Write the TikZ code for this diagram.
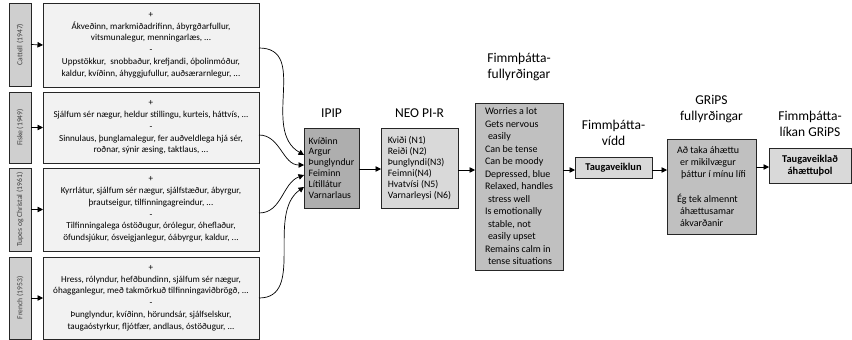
\documentclass[tikz,border=0pt]{standalone}
\usepackage{fontspec}
\setmainfont{Carlito}
\usetikzlibrary{arrows.meta,calc}
\definecolor{labfill}{HTML}{CFCFCF}
\definecolor{srcfill}{HTML}{F2F2F2}
\definecolor{darkfill}{HTML}{AEAEAE}
\definecolor{midfill}{HTML}{C0C0C0}
\definecolor{lightfill}{HTML}{D9D9D9}
\tikzset{
  box/.style={draw=black!85, line width=0.8pt, inner sep=0pt, outer sep=0pt},
  labbox/.style={box, fill=labfill, minimum width=22pt, minimum height=#1,
    font=\fontsize{7.6}{8}\selectfont, text=black!75},
  srcbox/.style={box, fill=srcfill, minimum width=216pt, minimum height=#1,
    align=center, font=\fontsize{9.1}{11.8}\selectfont},
  listbox/.style={box, align=left, font=\fontsize{9.8}{10.9}\selectfont},
  ttl/.style={align=center, font=\fontsize{13.5}{16.5}\selectfont, inner sep=0pt},
  conn/.style={line width=0.7pt, -{Triangle[length=5.5pt,width=5.5pt]}},
}
\begin{document}
\begin{tikzpicture}[x=1pt,y=-1pt]
\useasboundingbox (0,0) rectangle (852,340);

% sources: name labels and adjective lists
\node[labbox=83pt] (lc) at (20,44.5) {\rotatebox{90}{Cattell (1947)}};
\node[labbox=71pt] (lf) at (20,127.5) {\rotatebox{90}{Fiske (1949)}};
\node[labbox=83pt] (lt) at (20,209.5) {\rotatebox{90}{Tupes og Christal (1961)}};
\node[labbox=82pt] (lr) at (20,298) {\rotatebox{90}{French (1953)}};

\node[srcbox=84pt] (sc) at (151,45) {+\\Ákveðinn, markmiðadrifinn, ábyrgðarfullur,\\vitsmunalegur, menningarlæs, ...\\-\\Uppstökkur,\ \ snobbaður, krefjandi, óþolinmóður,\\kaldur, kvíðinn, áhyggjufullur, auðsærarnlegur, ...};
\node[srcbox=71pt] (sf) at (151,127.5) {+\\Sjálfum sér nægur, heldur stillingu, kurteis, háttvís, ...\\-\\Sinnulaus, þunglamalegur, fer auðveldlega hjá sér,\\roðnar, sýnir æsing, taktlaus, ...};
\node[srcbox=83pt] (st) at (151,209.5) {+\\Kyrrlátur, sjálfum sér nægur, sjálfstæður, ábyrgur,\\þrautseigur, tilfinningagreindur, ...\\-\\Tilfinningalega óstöðugur, órólegur, óheflaður,\\öfundsjúkur, ósveigjanlegur, óábyrgur, kaldur, ...};
\node[srcbox=82pt] (sr) at (151,298) {+\\Hress, rólyndur, hefðbundinn, sjálfum sér nægur,\\óhagganlegur, með takmörkuð tilfinningaviðbrögð, ...\\-\\Þunglyndur, kvíðinn, hörundsár, sjálfselskur,\\taugaóstyrkur, fljótfær, andlaus, óstöðugur, ...};

\foreach \a/\b in {lc/sc, lf/sf, lt/st, lr/sr}
  \draw[conn] (\a.east) -- (\b.west);

% facet lists
\node[listbox, fill=darkfill, minimum width=55pt, minimum height=80pt] (ipip) at (331.5,168)
  {Kvíðinn\\Argur\\Þunglyndur\\Feiminn\\Lítillátur\\Varnarlaus};
\node[ttl, anchor=base] (tipip) at (331.5,117) {IPIP};

\node[listbox, fill=lightfill, minimum width=77pt, minimum height=80pt] (neo) at (419.5,168)
  {Kviði (N1)\\Reiði (N2)\\Þunglyndi(N3)\\Feimni(N4)\\Hvatvísi (N5)\\Varnarleysi (N6)};
\node[ttl, anchor=base] (tneo) at (419.5,117) {NEO PI-R};

\node[box, fill=midfill, minimum width=88pt, minimum height=167pt, align=left,
  font=\fontsize{10}{12.5}\selectfont] (bff) at (519,186.5)
  {Worries a lot\\Gets nervous\\\hspace*{3pt}easily\\Can be tense\\Can be moody\\Depressed, blue\\Relaxed, handles\\\hspace*{3pt}stress well\\Is emotionally\\\hspace*{3pt}stable, not\\\hspace*{3pt}easily upset\\Remains calm in\\\hspace*{3pt}tense situations};
\node[ttl] (tbff) at (519,67) {Fimmþátta-\\fullyrðingar};

\node[box, fill=lightfill, minimum width=77pt, minimum height=21pt, font=\fontsize{10.4}{11}\selectfont\bfseries] (tau) at (613.5,167.5) {Taugaveiklun};
\node[ttl] (ttau) at (613.5,133) {Fimmþátta-\\vídd};

\node[box, fill=midfill, minimum width=89pt, minimum height=95pt, align=left,
  font=\fontsize{10}{12.2}\selectfont] (grips) at (711.5,186.5)
  {Að taka áhættu\\\hspace*{3pt}er mikilvægur\\\hspace*{4pt}þáttur í mínu lífi\\[12pt]Ég tek almennt\\\hspace*{3pt}áhættusamar\\\hspace*{3pt}ákvarðanir};
\node[ttl] (tgrips) at (711.5,109) {GRiPS\\fullyrðingar};

\node[box, fill=lightfill, minimum width=82pt, minimum height=35pt, align=center,
  font=\fontsize{10.4}{12.5}\selectfont\bfseries] (fin) at (810,165.5) {Taugaveiklað\\áhættuþol};
\node[ttl] (tfin) at (810,124) {Fimmþátta-\\líkan GRiPS};

% chain of arrows
\draw[conn] (ipip.east |- 0,169) -- (neo.west |- 0,169);
\draw[conn] (neo.east |- 0,170) -- (bff.west |- 0,170);
\draw[conn] (bff.east |- 0,170) -- (tau.west |- 0,170);
\draw[conn] (tau.east |- 0,170) -- (grips.west |- 0,170);
\draw[conn] (grips.east |- 0,167) -- (fin.west |- 0,167);

% sources feeding the IPIP list
\draw[conn] ([yshift=-3pt]sc.east) to[out=0,in=150,looseness=1.1] ([yshift=13pt]ipip.west);
\draw[conn] ([yshift=-7.5pt]sf.east) to[out=0,in=180] ([yshift=3pt]ipip.west);
\draw[conn] ([yshift=-3.5pt]st.east) to[out=0,in=200] ([yshift=-7pt]ipip.west);
\draw[conn] (sr.east) to[out=0,in=215] ([yshift=-19pt]ipip.west);
\end{tikzpicture}
\end{document}
